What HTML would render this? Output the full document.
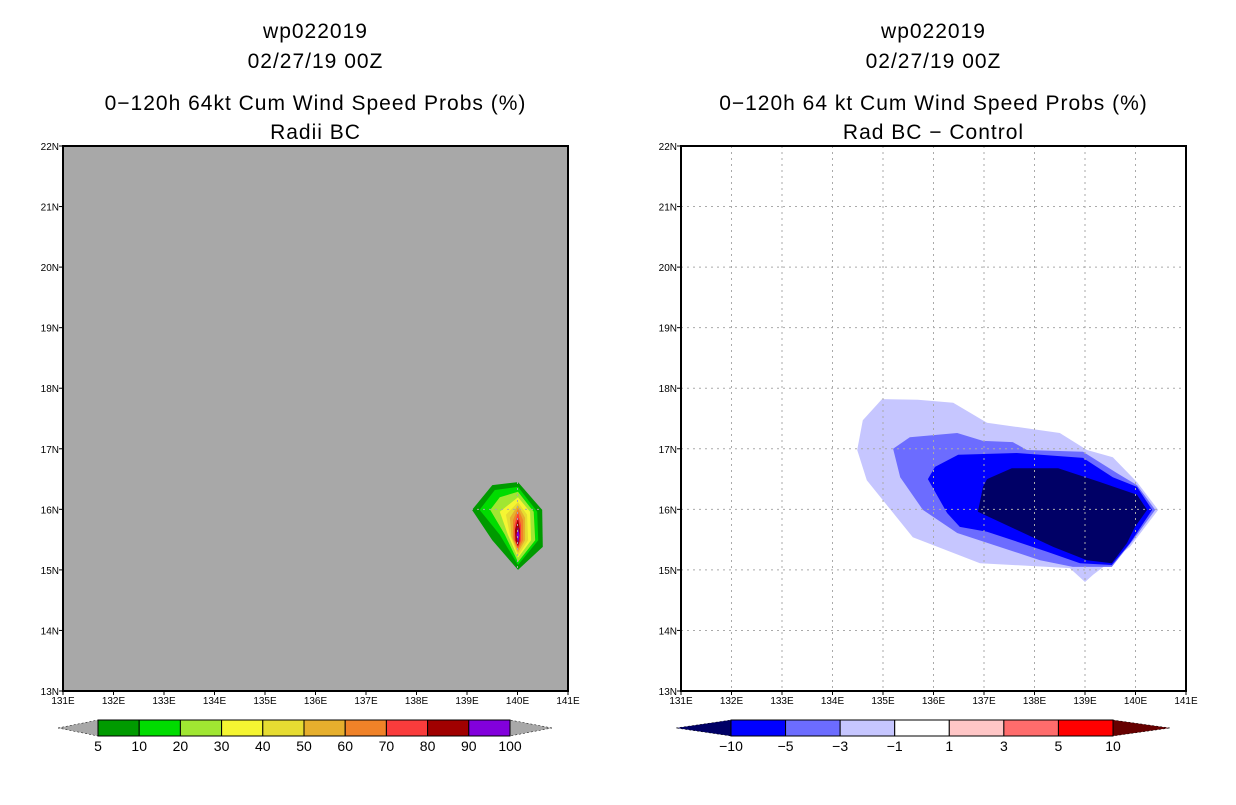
<!DOCTYPE html>
<html><head><meta charset="utf-8"><style>
body{margin:0;background:#fff;}
svg text{font-family:"Liberation Sans",sans-serif;}
</style></head><body>
<svg width="1236" height="800" viewBox="0 0 1236 800" xmlns="http://www.w3.org/2000/svg">
<g id="root"></g>
</svg>
<script>
// ---- data ----
const lonTicks = [131,132,133,134,135,136,137,138,139,140,141];
const latTicks = [13,14,15,16,17,18,19,20,21,22];
const leftLevels = [5,10,20,30,40,50,60,70,80,90,100];
const leftColors = ["#009a00","#00dc00","#a0e632","#f5f532","#e6dc32","#e6af2d","#f08228","#fa3c3c","#a00000","#8200dc"];
const rightLabels = ["-10","-5","-3","-1","1","3","5","10"];
const rightColors = ["#0000ff","#6c6cff","#c6c6ff","#ffffff","#ffc6c6","#ff6c6c","#ff0000"];
// left panel contours [lon,lat]
const L5  = [[139.50,16.40],[140.01,16.45],[140.49,15.99],[140.50,15.38],[140.01,15.00],[139.50,15.49],[139.10,15.99]];
const L10 = [[139.55,16.32],[140.01,16.37],[140.39,15.96],[140.41,15.49],[140.01,15.08],[139.65,15.58],[139.25,15.99]];
const L20 = [[139.65,16.20],[140.01,16.29],[140.32,15.96],[140.35,15.49],[140.01,15.13],[139.75,15.58],[139.46,15.99]];
const L30 = [[140.01,16.20],[140.25,15.96],[140.27,15.49],[140.01,15.20],[139.81,15.58],[139.65,15.96]];
const L40 = [[140.01,16.12],[140.19,15.91],[140.21,15.49],[140.01,15.23],[139.85,15.58],[139.77,15.91]];
const L50 = [[140.01,16.07],[140.15,15.86],[140.15,15.49],[140.01,15.28],[139.88,15.55],[139.85,15.86]];
const L60 = [[140.01,16.02],[140.11,15.82],[140.11,15.49],[140.01,15.33],[139.91,15.52],[139.91,15.82]];
const L70 = [[140.01,15.96],[140.07,15.74],[140.07,15.49],[140.01,15.36],[139.94,15.50],[139.94,15.74]];
const L80 = [[140.01,15.86],[140.05,15.66],[140.04,15.47],[140.01,15.39],[139.96,15.48],[139.95,15.66]];
const L90 = [[140.01,15.72],[140.04,15.57],[140.01,15.44],[139.98,15.57]];
const leftPolys = [L5,L10,L20,L30,L40,L50,L60,L70,L80,L90];
// right panel contours
const Rm1 = [[134.98,17.82],[135.69,17.81],[136.39,17.76],[137.06,17.43],[138.50,17.26],[139.04,16.98],[139.55,16.86],[140.03,16.45],[140.45,15.99],[139.89,15.38],[139.16,14.92],[139.00,14.80],[138.70,15.03],[136.92,15.11],[135.59,15.54],[134.68,16.48],[134.49,16.98],[134.60,17.47]];
const Rm3 = [[135.20,17.00],[135.53,17.19],[136.47,17.26],[136.98,17.13],[137.57,17.11],[137.85,16.98],[138.96,16.95],[139.63,16.60],[140.03,16.40],[140.39,15.99],[139.95,15.49],[139.53,15.05],[138.76,15.05],[138.11,15.16],[136.47,15.61],[135.79,15.99],[135.34,16.53]];
const Rm5 = [[136.03,16.70],[136.49,16.90],[137.65,16.93],[138.96,16.85],[139.55,16.53],[140.03,16.37],[140.33,15.99],[139.89,15.44],[139.53,15.08],[138.90,15.11],[138.25,15.30],[137.06,15.63],[136.52,15.71],[136.27,15.94],[135.89,16.50]];
const Rm10 = [[137.06,16.50],[137.55,16.68],[138.47,16.68],[139.30,16.45],[140.03,16.24],[140.23,15.99],[139.99,15.71],[139.83,15.44],[139.53,15.11],[139.04,15.16],[138.37,15.38],[136.88,15.96],[136.98,16.37]];
const rightPolys = [Rm1,Rm3,Rm5,Rm10];
const rightPolyColors = ["#c6c6ff","#6c6cff","#0000ff","#000066"];

const NS="http://www.w3.org/2000/svg";
const root=document.getElementById('root');
function mk(tag,attrs,parent){const e=document.createElementNS(NS,tag);for(const k in attrs)e.setAttribute(k,attrs[k]);(parent||root).appendChild(e);return e;}
function txt(x,y,s,size,anchor,parent){const t=mk('text',{x:x,y:y,'font-size':size,'text-anchor':anchor||'middle',fill:'#000'},parent);t.textContent=s;return t;}

function panel(x0,name,titles,bg,polys,cols,gridColor){
  const x1=x0+505,y0=146,y1=691;
  const sx=lon=>x0+(lon-131)*(x1-x0)/10;
  const sy=lat=>y1-(lat-13)*(y1-y0)/9;
  const g=mk('g',{});
  
  
  const cx=(x0+x1)/2;
  const ys=[38,68,110,139];
  titles.forEach((s,i)=>{const t=txt(cx,ys[i],s,21,'middle',g);t.setAttribute('letter-spacing','1');
    
    });
  const bgr=mk('rect',{x:x0,y:y0,width:x1-x0,height:y1-y0,fill:bg},g);
  
  
  polys.forEach((p,i)=>{
    const pl=mk('polygon',{points:p.map(q=>sx(q[0]).toFixed(1)+','+sy(q[1]).toFixed(1)).join(' '),fill:cols[i]},g);
    
    
  });
  lonTicks.slice(1,-1).forEach(l=>{const ln=mk('line',{x1:sx(l),x2:sx(l),y1:y0,y2:y1,stroke:gridColor,'stroke-width':1,'stroke-dasharray':'2 4'},g);
    
    });
  latTicks.slice(1,-1).forEach(l=>{const ln=mk('line',{x1:x0,x2:x1,y1:sy(l),y2:sy(l),stroke:gridColor,'stroke-width':1,'stroke-dasharray':'2 4'},g);
    
    });
  const fr=mk('rect',{x:x0,y:y0,width:x1-x0,height:y1-y0,fill:'none',stroke:'#000','stroke-width':2},g);
  
  
  lonTicks.forEach(l=>{mk('line',{x1:sx(l),x2:sx(l),y1:y1,y2:y1+4,stroke:'#000'},g);
    const t=txt(sx(l),y1+13,l+'E',10,'middle',g);
    
    });
  latTicks.forEach(l=>{mk('line',{x1:x0-4,x2:x0,y1:sy(l),y2:sy(l),stroke:'#000'},g);
    const t=txt(x0-4,sy(l)+4,l+'N',10,'end',g);
    
    });
}
panel(63,'left-panel',['wp022019','02/27/19 00Z','0\u2212120h 64kt Cum Wind Speed Probs (%)','Radii BC'],'#a8a8a8',leftPolys,leftColors,'#a8a8a8');
panel(681,'right-panel',['wp022019','02/27/19 00Z','0\u2212120h 64 kt Cum Wind Speed Probs (%)','Rad BC \u2212 Control'],'#ffffff',rightPolys,rightPolyColors,'#aaaaaa');

function colorbar(name,tipL,bx0,bx1,tipR,cols,labels,lc,rc){
  const g=mk('g',{});
  
  
  const yt=720,yb=736,ym=728;
  mk('polygon',{points:`${tipL},${ym} ${bx0},${yt} ${bx0},${yb}`,fill:lc,stroke:'#000','stroke-width':0.5,'stroke-dasharray':'2 2'},g);
  mk('polygon',{points:`${tipR},${ym} ${bx1},${yt} ${bx1},${yb}`,fill:rc,stroke:'#000','stroke-width':0.5,'stroke-dasharray':'2 2'},g);
  const w=(bx1-bx0)/cols.length;
  cols.forEach((c,i)=>{const r=mk('rect',{x:bx0+i*w,y:yt,width:w,height:yb-yt,fill:c,stroke:'#000','stroke-width':1},g);
    
    });
  const step=(bx1-bx0)/(labels.length-1);
  labels.forEach((s,i)=>{const t=txt(bx0+i*step,751,s.replace('-','\u2212'),14,'middle',g);
    
    });
}
colorbar('left-colorbar',58,98,510,552,leftColors,leftLevels.map(String),'#a8a8a8','#a8a8a8');
colorbar('right-colorbar',676,731,1113,1170,rightColors,rightLabels,'#000066','#660000');
</script>
</body></html>
